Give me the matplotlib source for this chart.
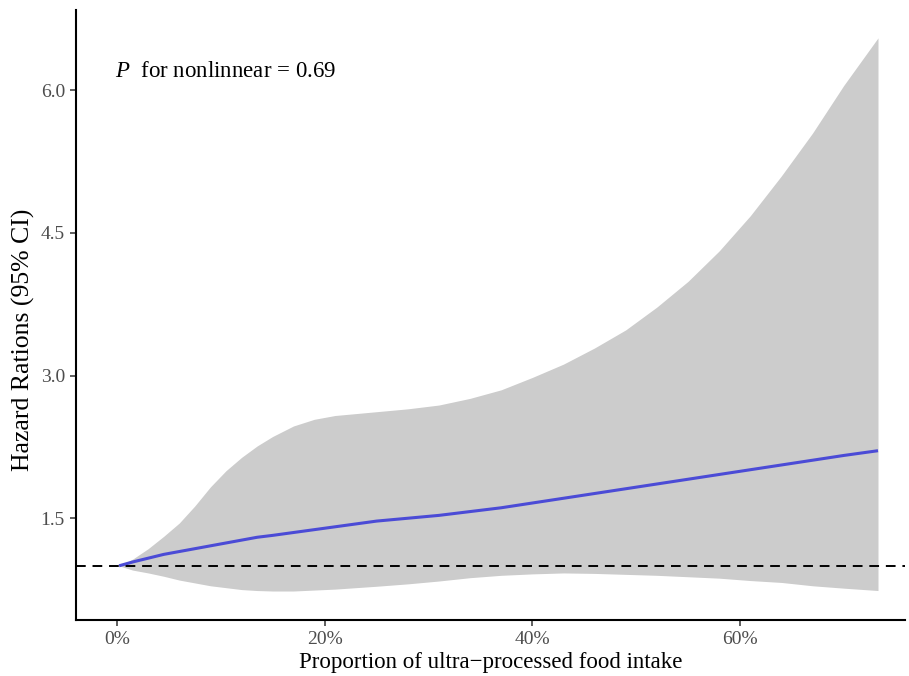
import numpy as np
import matplotlib
matplotlib.use("Agg")
import matplotlib.pyplot as plt

# data (percent intake, hazard ratio and 95% CI)
upf_pct = [0.2, 1.5, 3, 4.5, 6, 7.5, 9, 10.5, 12, 13.5, 15, 17, 19, 21, 23, 25,
           28, 31, 34, 37, 40, 43, 46, 49, 52, 55, 58, 61, 64, 67, 70, 73.3]
hr = [1.0, 1.04, 1.08, 1.12, 1.15, 1.18, 1.21, 1.24, 1.27, 1.30, 1.32, 1.35, 1.38, 1.41, 1.44, 1.47,
      1.50, 1.53, 1.57, 1.61, 1.66, 1.71, 1.76, 1.81, 1.86, 1.91, 1.96, 2.01, 2.06, 2.11, 2.16, 2.21]
ci_upper = [1.0, 1.07, 1.18, 1.31, 1.45, 1.63, 1.83, 2.00, 2.14, 2.26, 2.36, 2.47, 2.54, 2.58, 2.60, 2.62,
            2.65, 2.69, 2.76, 2.85, 2.98, 3.12, 3.29, 3.48, 3.72, 3.99, 4.31, 4.68, 5.10, 5.55, 6.05, 6.55]
ci_lower = [1.0, 0.955, 0.925, 0.89, 0.85, 0.82, 0.79, 0.77, 0.75, 0.74, 0.735, 0.735, 0.745, 0.755, 0.77, 0.785,
            0.81, 0.84, 0.875, 0.90, 0.915, 0.925, 0.92, 0.91, 0.90, 0.885, 0.87, 0.845, 0.825, 0.79, 0.765, 0.74]

x_ticks = [0, 20, 40, 60]
y_ticks = [1.5, 3.0, 4.5, 6.0]
p_nonlinear = 0.69

plt.rcParams['font.family'] = ['Liberation Serif', 'DejaVu Serif']
plt.rcParams['mathtext.fontset'] = 'custom'
plt.rcParams['mathtext.rm'] = 'Liberation Serif'
plt.rcParams['mathtext.it'] = 'Liberation Serif:italic'

fig = plt.figure(figsize=(9.09, 6.76), dpi=100)
ax = fig.add_axes([0.0836, 0.0828, 0.912, 0.902])

ax.fill_between(upf_pct, ci_lower, ci_upper, color='#cccccc', linewidth=0)
ax.plot(upf_pct, hr, color='#4b4bd6', linewidth=2.2, solid_capstyle='butt')
ax.axhline(1.0, color='black', linestyle=(0, (5, 3.5)), linewidth=1.4)

ax.set_xlim(-3.95, 75.9)
ax.set_ylim(0.43, 6.84)
ax.set_xticks(x_ticks)
ax.set_xticklabels(['{}%'.format(t) for t in x_ticks])
ax.set_yticks(y_ticks)
ax.set_yticklabels(['{:.1f}'.format(t) for t in y_ticks])

for side in ['top', 'right']:
    ax.spines[side].set_visible(False)
for side in ['left', 'bottom']:
    ax.spines[side].set_linewidth(1.5)
    ax.spines[side].set_color('black')
ax.tick_params(axis='both', length=4, width=1.1, color='#333333',
               labelcolor='#4d4d4d', labelsize=14, pad=4)

ax.set_xlabel('Proportion of ultra\u2212processed food intake', fontsize=16.5, labelpad=3)
ax.set_ylabel('Hazard Rations (95% CI)', fontsize=18.5)
ax.yaxis.set_label_coords(-0.05, 0.46)

ax.text(0.047, 0.90, r'$\it{P}$  for nonlinnear = ' + '{:.2f}'.format(p_nonlinear),
        transform=ax.transAxes, fontsize=16.5, va='center', ha='left')

fig.savefig('out.png', dpi=100)
